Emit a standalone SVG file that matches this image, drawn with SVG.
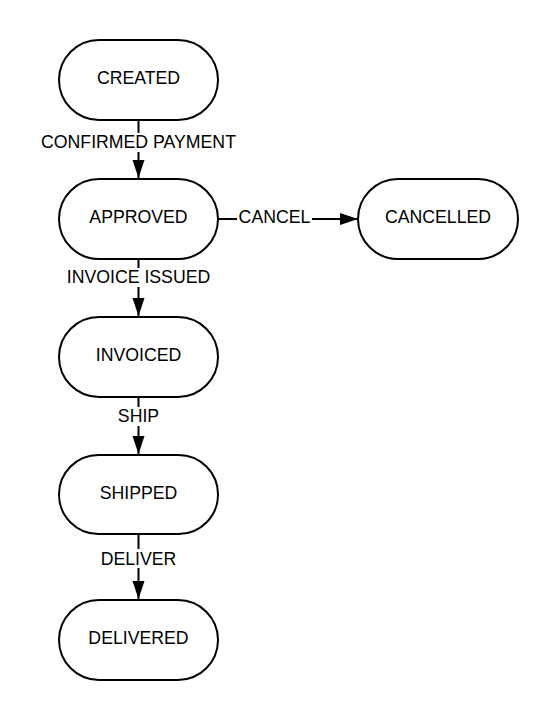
<svg xmlns="http://www.w3.org/2000/svg" width="559" height="720" viewBox="0 0 559 720">
<style>
.node rect{fill:#fff;stroke:#000;stroke-width:2}
text{font-family:"Liberation Sans",Arial,sans-serif;font-size:17.7px;fill:#000;text-anchor:middle}
.edge{stroke:#000;stroke-width:2;fill:none;marker-end:url(#arr)}
.lbg{fill:#fff}
</style>
<defs>
<marker id="arr" markerUnits="userSpaceOnUse" markerWidth="20" markerHeight="14" refX="18" refY="6" orient="auto">
<path d="M0,0 L18,6 L0,12 Z" fill="#000"/>
</marker>
</defs>
<rect width="559" height="720" fill="#fff"/>
<g id="connectors">
<line class="edge" x1="138.5" y1="120" x2="138.5" y2="178"/>
<line class="edge" x1="138.5" y1="259" x2="138.5" y2="316"/>
<line class="edge" x1="138.5" y1="397" x2="138.5" y2="454"/>
<line class="edge" x1="138.5" y1="534" x2="138.5" y2="599"/>
<line class="edge" x1="218" y1="219" x2="358" y2="219"/>
<rect class="lbg" x="38" y="133" width="202" height="19"/>
<text x="138.5" y="148">CONFIRMED PAYMENT</text>
<rect class="lbg" x="64" y="268" width="150" height="19"/>
<text x="138.5" y="283">INVOICE ISSUED</text>
<rect class="lbg" x="116" y="407" width="45" height="19"/>
<text x="138.5" y="422">SHIP</text>
<rect class="lbg" x="97" y="549" width="83" height="19"/>
<text x="138.5" y="565">DELIVER</text>
<rect class="lbg" x="237" y="208" width="75" height="19"/>
<text x="274.5" y="223">CANCEL</text>
</g>
<g id="created" class="node"><rect x="59" y="40" width="159" height="80" rx="40"/><text x="138.5" y="84">CREATED</text></g>
<g id="approved" class="node"><rect x="59" y="179" width="159" height="80" rx="40"/><text x="138.5" y="223">APPROVED</text></g>
<g id="cancelled" class="node"><rect x="358" y="179" width="160" height="80" rx="40"/><text x="438" y="223">CANCELLED</text></g>
<g id="invoiced" class="node"><rect x="59" y="317" width="159" height="80" rx="40"/><text x="138.5" y="361">INVOICED</text></g>
<g id="shipped" class="node"><rect x="59" y="455" width="159" height="79" rx="39.5"/><text x="138.5" y="499">SHIPPED</text></g>
<g id="delivered" class="node"><rect x="59" y="600" width="159" height="80" rx="40"/><text x="138.5" y="644">DELIVERED</text></g>
</svg>
